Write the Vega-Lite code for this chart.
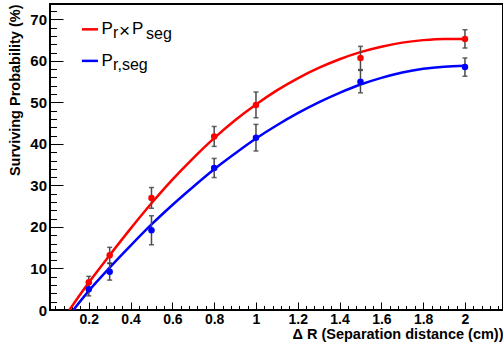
{
  "$schema": "https://vega.github.io/schema/vega-lite/v6.json",
  "width": 453,
  "height": 306,
  "autosize": {"type": "none"},
  "padding": {"left": 50, "top": 4, "right": 0, "bottom": 35},
  "background": "white",
  "config": {
    "font": "Liberation Sans",
    "view": {"stroke": "black", "strokeWidth": 2},
    "axis": {
      "grid": false,
      "domain": false,
      "tickColor": "black",
      "tickWidth": 1,
      "labelFont": "Liberation Sans",
      "labelFontWeight": "bold",
      "labelFontSize": 14,
      "labelColor": "black",
      "labelOverlap": false,
      "labelFlush": false,
      "labelBound": false,
      "titleFont": "Liberation Sans",
      "titleFontWeight": "bold",
      "titleFontSize": 14.5,
      "titleColor": "black"
    }
  },
  "datasets": {
    "pts": [
      {"series": "Pr×Pseg", "x": 0.2, "y": 6.7, "err": 1.4},
      {"series": "Pr×Pseg", "x": 0.3, "y": 13.2, "err": 1.9},
      {"series": "Pr×Pseg", "x": 0.5, "y": 27.0, "err": 2.5},
      {"series": "Pr×Pseg", "x": 0.8, "y": 41.8, "err": 2.4},
      {"series": "Pr×Pseg", "x": 1.0, "y": 49.4, "err": 3.1},
      {"series": "Pr×Pseg", "x": 1.5, "y": 60.7, "err": 2.8},
      {"series": "Pr×Pseg", "x": 2.0, "y": 65.3, "err": 2.2},
      {"series": "Pr,seg", "x": 0.2, "y": 5.0, "err": 1.6},
      {"series": "Pr,seg", "x": 0.3, "y": 9.2, "err": 2.0},
      {"series": "Pr,seg", "x": 0.5, "y": 19.2, "err": 3.5},
      {"series": "Pr,seg", "x": 0.8, "y": 34.2, "err": 2.3},
      {"series": "Pr,seg", "x": 1.0, "y": 41.5, "err": 3.2},
      {"series": "Pr,seg", "x": 1.5, "y": 55.0, "err": 2.7},
      {"series": "Pr,seg", "x": 2.0, "y": 58.5, "err": 2.2}
    ],
    "fit": [
      {"series": "Pr×Pseg", "x": 0.107, "y": 0},
      {"series": "Pr×Pseg", "x": 0.2, "y": 6.6},
      {"series": "Pr×Pseg", "x": 0.3, "y": 13.2},
      {"series": "Pr×Pseg", "x": 0.4, "y": 19.6},
      {"series": "Pr×Pseg", "x": 0.5, "y": 25.7},
      {"series": "Pr×Pseg", "x": 0.6, "y": 31.4},
      {"series": "Pr×Pseg", "x": 0.7, "y": 36.6},
      {"series": "Pr×Pseg", "x": 0.8, "y": 41.4},
      {"series": "Pr×Pseg", "x": 0.9, "y": 45.7},
      {"series": "Pr×Pseg", "x": 1.0, "y": 49.5},
      {"series": "Pr×Pseg", "x": 1.1, "y": 52.9},
      {"series": "Pr×Pseg", "x": 1.2, "y": 55.8},
      {"series": "Pr×Pseg", "x": 1.3, "y": 58.3},
      {"series": "Pr×Pseg", "x": 1.4, "y": 60.4},
      {"series": "Pr×Pseg", "x": 1.5, "y": 62.1},
      {"series": "Pr×Pseg", "x": 1.6, "y": 63.4},
      {"series": "Pr×Pseg", "x": 1.7, "y": 64.4},
      {"series": "Pr×Pseg", "x": 1.8, "y": 65.0},
      {"series": "Pr×Pseg", "x": 1.9, "y": 65.3},
      {"series": "Pr×Pseg", "x": 2.0, "y": 65.3},
      {"series": "Pr,seg", "x": 0.126, "y": 0},
      {"series": "Pr,seg", "x": 0.2, "y": 4.6},
      {"series": "Pr,seg", "x": 0.3, "y": 10.2},
      {"series": "Pr,seg", "x": 0.4, "y": 15.5},
      {"series": "Pr,seg", "x": 0.5, "y": 20.6},
      {"series": "Pr,seg", "x": 0.6, "y": 25.3},
      {"series": "Pr,seg", "x": 0.7, "y": 29.7},
      {"series": "Pr,seg", "x": 0.8, "y": 33.9},
      {"series": "Pr,seg", "x": 0.9, "y": 37.7},
      {"series": "Pr,seg", "x": 1.0, "y": 41.3},
      {"series": "Pr,seg", "x": 1.1, "y": 44.5},
      {"series": "Pr,seg", "x": 1.2, "y": 47.4},
      {"series": "Pr,seg", "x": 1.3, "y": 50.0},
      {"series": "Pr,seg", "x": 1.4, "y": 52.3},
      {"series": "Pr,seg", "x": 1.5, "y": 54.3},
      {"series": "Pr,seg", "x": 1.6, "y": 55.9},
      {"series": "Pr,seg", "x": 1.7, "y": 57.2},
      {"series": "Pr,seg", "x": 1.8, "y": 58.1},
      {"series": "Pr,seg", "x": 1.9, "y": 58.6},
      {"series": "Pr,seg", "x": 2.0, "y": 58.8}
    ],
    "keyLines": [
      {"series": "Pr×Pseg", "x": 0.167, "x2": 0.244, "y": 67.6},
      {"series": "Pr,seg", "x": 0.167, "x2": 0.244, "y": 60.0}
    ],
    "keyMain": [
      {"t": "P", "x": 0.2608, "y": 66.5},
      {"t": "P", "x": 0.4067, "y": 66.5},
      {"t": "P", "x": 0.2608, "y": 58.8}
    ],
    "keyTimes": [
      {"t": "×", "x": 0.3445, "y": 65.8}
    ],
    "keySub": [
      {"t": "r", "x": 0.3158, "y": 65.4},
      {"t": "seg", "x": 0.4737, "y": 65.2},
      {"t": "r,seg", "x": 0.3158, "y": 57.8}
    ]
  },
  "resolve": {"axis": {"x": "independent", "y": "independent"}},
  "layer": [
    {
      "data": {"name": "pts"},
      "mark": {"type": "point", "opacity": 0},
      "encoding": {
        "x": {
          "field": "x", "type": "quantitative",
          "scale": {"domain": [0.0144, 2.182], "nice": false, "zero": false},
          "axis": {
            "orient": "bottom", "title": null, "labels": false,
            "tickSize": -4.5,
            "values": [0.04, 0.08, 0.12, 0.16, 0.24, 0.28, 0.32, 0.36, 0.44, 0.48, 0.52, 0.56, 0.64, 0.68, 0.72, 0.76, 0.84, 0.88, 0.92, 0.96, 1.04, 1.08, 1.12, 1.16, 1.24, 1.28, 1.32, 1.36, 1.44, 1.48, 1.52, 1.56, 1.64, 1.68, 1.72, 1.76, 1.84, 1.88, 1.92, 1.96, 2.04, 2.08, 2.12, 2.16]
          }
        },
        "y": {
          "field": "y", "type": "quantitative",
          "scale": {"domain": [0, 73.7], "nice": false, "zero": false},
          "axis": {
            "orient": "left", "title": null, "labels": false,
            "tickSize": -6.5,
            "values": [2, 4, 6, 8, 12, 14, 16, 18, 22, 24, 26, 28, 32, 34, 36, 38, 42, 44, 46, 48, 52, 54, 56, 58, 62, 64, 66, 68, 72]
          }
        }
      }
    },
    {
      "data": {"name": "fit"},
      "mark": {"type": "line", "strokeWidth": 2.5, "interpolate": "monotone", "clip": true},
      "encoding": {
        "x": {
          "field": "x", "type": "quantitative",
          "scale": {"domain": [0.0144, 2.182], "nice": false, "zero": false},
          "axis": {
            "orient": "bottom",
            "title": "Δ R (Separation distance (cm))",
            "titleAnchor": "end",
            "titlePadding": 1,
            "values": [0.2, 0.4, 0.6, 0.8, 1, 1.2, 1.4, 1.6, 1.8, 2],
            "format": "~g",
            "tickSize": -8,
            "labelPadding": 10
          }
        },
        "y": {
          "field": "y", "type": "quantitative",
          "scale": {"domain": [0, 73.7], "nice": false, "zero": false},
          "axis": {
            "orient": "left",
            "title": "Surviving Probability (%)",
            "titleAnchor": "end",
            "titlePadding": 7,
            "values": [0, 10, 20, 30, 40, 50, 60, 70],
            "format": "d",
            "labelFontSize": 15,
            "tickSize": -13,
            "labelPadding": 16.5
          }
        },
        "color": {
          "field": "series", "type": "nominal",
          "scale": {"domain": ["Pr×Pseg", "Pr,seg"], "range": ["#ff0000", "#0000ff"]},
          "legend": null
        }
      }
    },
    {
      "data": {"name": "pts"},
      "mark": {"type": "errorbar", "color": "#4a4a4a", "thickness": 1.5, "ticks": {"size": 5, "color": "#222222", "thickness": 1.5}},
      "encoding": {
        "x": {"field": "x", "type": "quantitative", "scale": {"domain": [0.0144, 2.182], "nice": false, "zero": false}, "axis": null},
        "y": {"field": "y", "type": "quantitative", "scale": {"domain": [0, 73.7], "nice": false, "zero": false}, "axis": null},
        "yError": {"field": "err"}
      }
    },
    {
      "data": {"name": "pts"},
      "mark": {"type": "point", "filled": true, "size": 42, "opacity": 1},
      "encoding": {
        "x": {"field": "x", "type": "quantitative", "scale": {"domain": [0.0144, 2.182], "nice": false, "zero": false}, "axis": null},
        "y": {"field": "y", "type": "quantitative", "scale": {"domain": [0, 73.7], "nice": false, "zero": false}, "axis": null},
        "color": {"field": "series", "type": "nominal", "scale": {"domain": ["Pr×Pseg", "Pr,seg"], "range": ["#ff0000", "#0000ff"]}, "legend": null}
      }
    },
    {
      "data": {"name": "keyLines"},
      "mark": {"type": "rule", "strokeWidth": 2.5},
      "encoding": {
        "x": {"field": "x", "type": "quantitative", "scale": {"domain": [0.0144, 2.182], "nice": false, "zero": false}, "axis": null},
        "x2": {"field": "x2"},
        "y": {"field": "y", "type": "quantitative", "scale": {"domain": [0, 73.7], "nice": false, "zero": false}, "axis": null},
        "color": {"field": "series", "type": "nominal", "scale": {"domain": ["Pr×Pseg", "Pr,seg"], "range": ["#ff0000", "#0000ff"]}, "legend": null}
      }
    },
    {
      "data": {"name": "keyMain"},
      "mark": {"type": "text", "font": "Liberation Sans", "fontSize": 17, "align": "left", "baseline": "alphabetic", "color": "black"},
      "encoding": {
        "x": {"field": "x", "type": "quantitative", "scale": {"domain": [0.0144, 2.182], "nice": false, "zero": false}, "axis": null},
        "y": {"field": "y", "type": "quantitative", "scale": {"domain": [0, 73.7], "nice": false, "zero": false}, "axis": null},
        "text": {"field": "t"}
      }
    },
    {
      "data": {"name": "keyTimes"},
      "mark": {"type": "text", "font": "Liberation Sans", "fontSize": 19, "align": "left", "baseline": "alphabetic", "color": "black"},
      "encoding": {
        "x": {"field": "x", "type": "quantitative", "scale": {"domain": [0.0144, 2.182], "nice": false, "zero": false}, "axis": null},
        "y": {"field": "y", "type": "quantitative", "scale": {"domain": [0, 73.7], "nice": false, "zero": false}, "axis": null},
        "text": {"field": "t"}
      }
    },
    {
      "data": {"name": "keySub"},
      "mark": {"type": "text", "font": "Liberation Sans", "fontSize": 16, "align": "left", "baseline": "alphabetic", "color": "black"},
      "encoding": {
        "x": {"field": "x", "type": "quantitative", "scale": {"domain": [0.0144, 2.182], "nice": false, "zero": false}, "axis": null},
        "y": {"field": "y", "type": "quantitative", "scale": {"domain": [0, 73.7], "nice": false, "zero": false}, "axis": null},
        "text": {"field": "t"}
      }
    }
  ]
}
